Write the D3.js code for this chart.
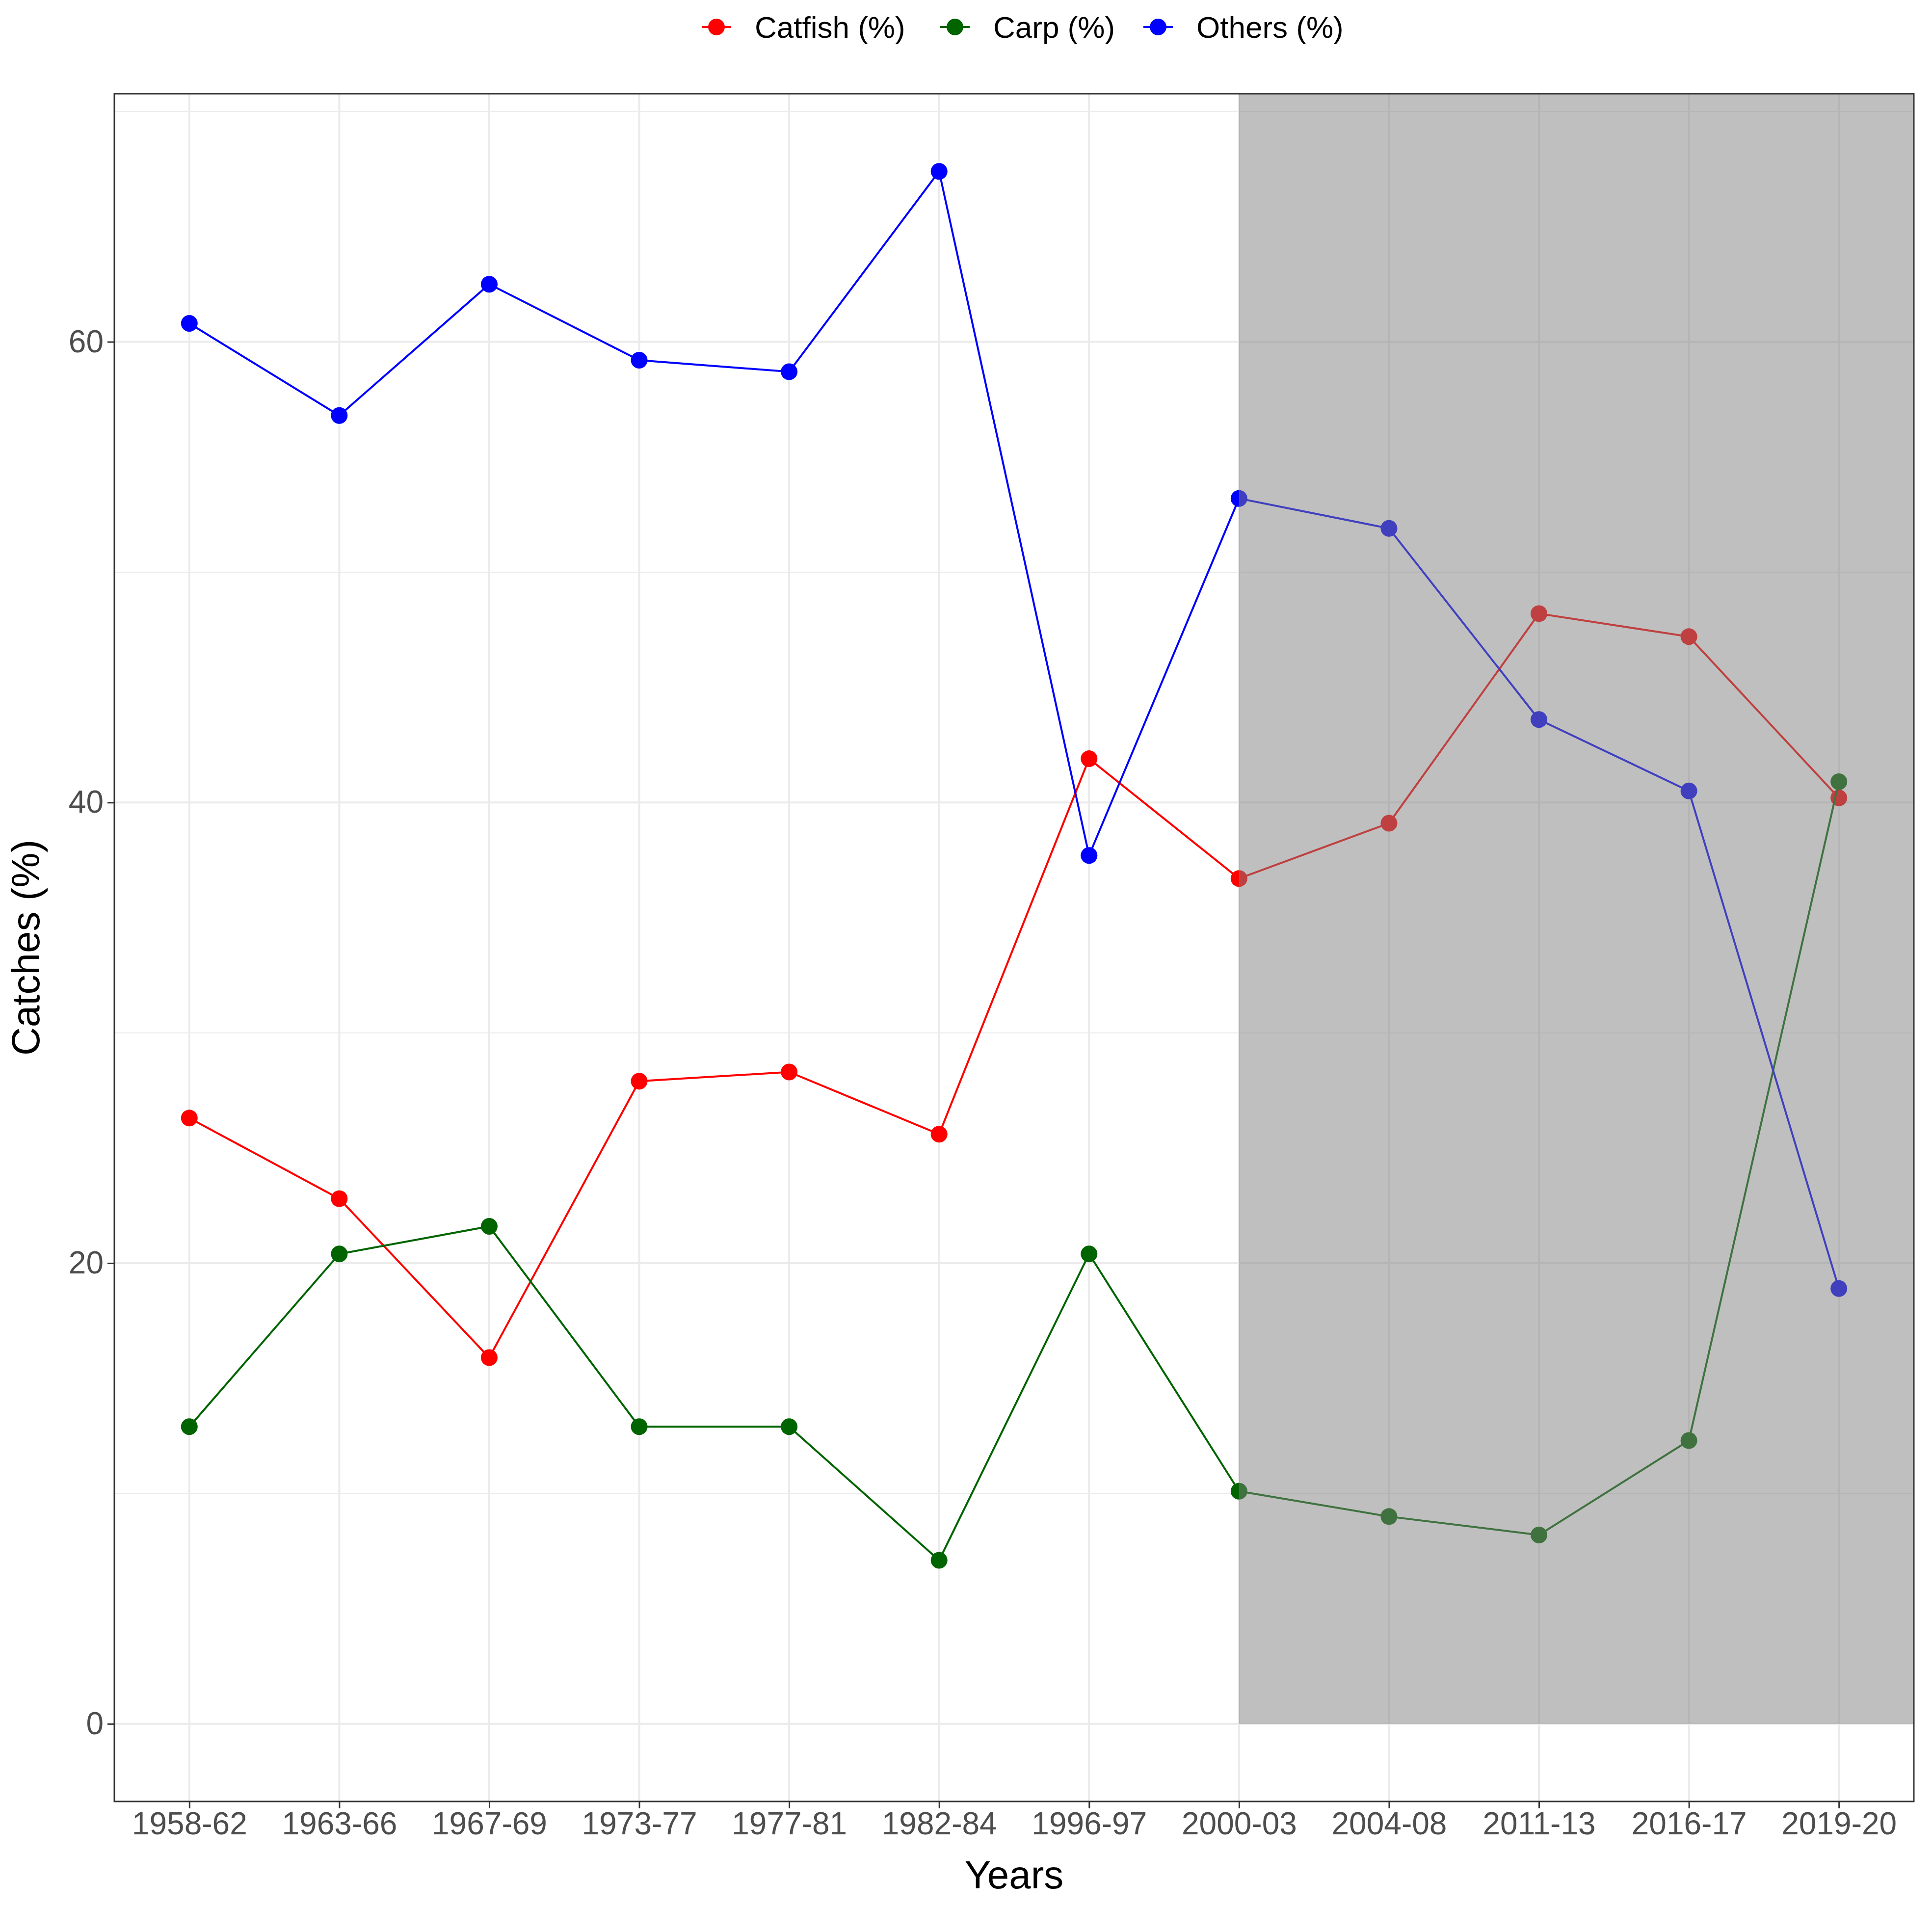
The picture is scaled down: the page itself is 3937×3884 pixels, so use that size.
<!DOCTYPE html>
<html><head><meta charset="utf-8">
<script src="https://cdn.jsdelivr.net/npm/d3@7"></script>
<style>body{margin:0;background:#fff}</style></head>
<body><svg id="c" width="3937" height="3884"></svg>
<script>
const years=["1958-62","1963-66","1967-69","1973-77","1977-81","1982-84","1996-97","2000-03","2004-08","2011-13","2016-17","2019-20"];
const catfish=[26.3,22.8,15.9,27.9,28.3,25.6,41.9,36.7,39.1,48.2,47.2,40.2];
const carp=[12.9,20.4,21.6,12.9,12.9,7.1,20.4,10.1,9.0,8.2,12.3,40.9];
const others=[60.8,56.8,62.5,59.2,58.7,67.4,37.7,53.2,51.9,43.6,40.5,18.9];
const seriesNames=["Catfish (%)","Carp (%)","Others (%)"];
const seriesColors=["#ff0000","#006400","#0000ff"];
const yTicks=[0,20,40,60];
const shadeFrom="2000-03";

const svg=d3.select("#c");
const L=233,R=3900,T=191,B=3671;
const x=d3.scalePoint().domain(years).range([L,R]).padding(0.5);
const y=d3.scaleLinear().domain([-3.37,70.77]).range([B,T]);
const font="Liberation Sans, Arial, sans-serif";
// grid
[10,30,50,70].forEach(v=>svg.append("line").attr("x1",L).attr("x2",R).attr("y1",y(v)).attr("y2",y(v)).attr("stroke","#ebebeb").attr("stroke-width",2));
yTicks.forEach(v=>svg.append("line").attr("x1",L).attr("x2",R).attr("y1",y(v)).attr("y2",y(v)).attr("stroke","#ebebeb").attr("stroke-width",4));
years.forEach(v=>svg.append("line").attr("x1",x(v)).attr("x2",x(v)).attr("y1",T).attr("y2",B).attr("stroke","#ebebeb").attr("stroke-width",4));
const data=[catfish,carp,others];
const line=d3.line().x((d,i)=>x(years[i])).y(d=>y(d));
data.forEach((s,k)=>{
 svg.append("path").attr("d",line(s)).attr("fill","none").attr("stroke",seriesColors[k]).attr("stroke-width",4);
 svg.selectAll(null).data(s).enter().append("circle").attr("cx",(d,i)=>x(years[i])).attr("cy",d=>y(d)).attr("r",17).attr("fill",seriesColors[k]);
});
// shade
const sx=x(shadeFrom);
svg.append("rect").attr("x",sx).attr("y",T).attr("width",(x(years[years.length-1])+x.step()/2)-sx).attr("height",y(0)-T).attr("fill","#7f7f7f").attr("fill-opacity",0.5);
svg.append("rect").attr("x",L).attr("y",T).attr("width",R-L).attr("height",B-T).attr("fill","none").attr("stroke","#333").attr("stroke-width",3);
// axes
const ga=svg.append("g").attr("transform",`translate(0,${B})`).call(d3.axisBottom(x).tickSize(14).tickPadding(8));
const gy=svg.append("g").attr("transform",`translate(${L},0)`).call(d3.axisLeft(y).tickValues(yTicks).tickSize(14).tickPadding(8));
[ga,gy].forEach(g=>{g.select(".domain").remove();g.selectAll("line").attr("stroke","#333").attr("stroke-width",3);g.selectAll("text").attr("font-family",font).attr("font-size",64).attr("fill","#4d4d4d");});
svg.append("text").attr("x",(L+R)/2).attr("y",3848).attr("text-anchor","middle").attr("font-family",font).attr("font-size",80).text("Years");
svg.append("text").attr("transform",`translate(80,${(T+B)/2}) rotate(-90)`).attr("text-anchor","middle").attr("font-family",font).attr("font-size",80).text("Catches (%)");
// legend
const lx=[1460,1946,2360];
seriesNames.forEach((n,k)=>{
 const g=svg.append("g").attr("transform",`translate(${lx[k]},55)`);
 g.append("line").attr("x1",-30).attr("x2",30).attr("stroke",seriesColors[k]).attr("stroke-width",4);
 g.append("circle").attr("r",17).attr("fill",seriesColors[k]);
 g.append("text").attr("x",78).attr("y",22).attr("font-family",font).attr("font-size",62).text(n);
});
</script></body></html>
